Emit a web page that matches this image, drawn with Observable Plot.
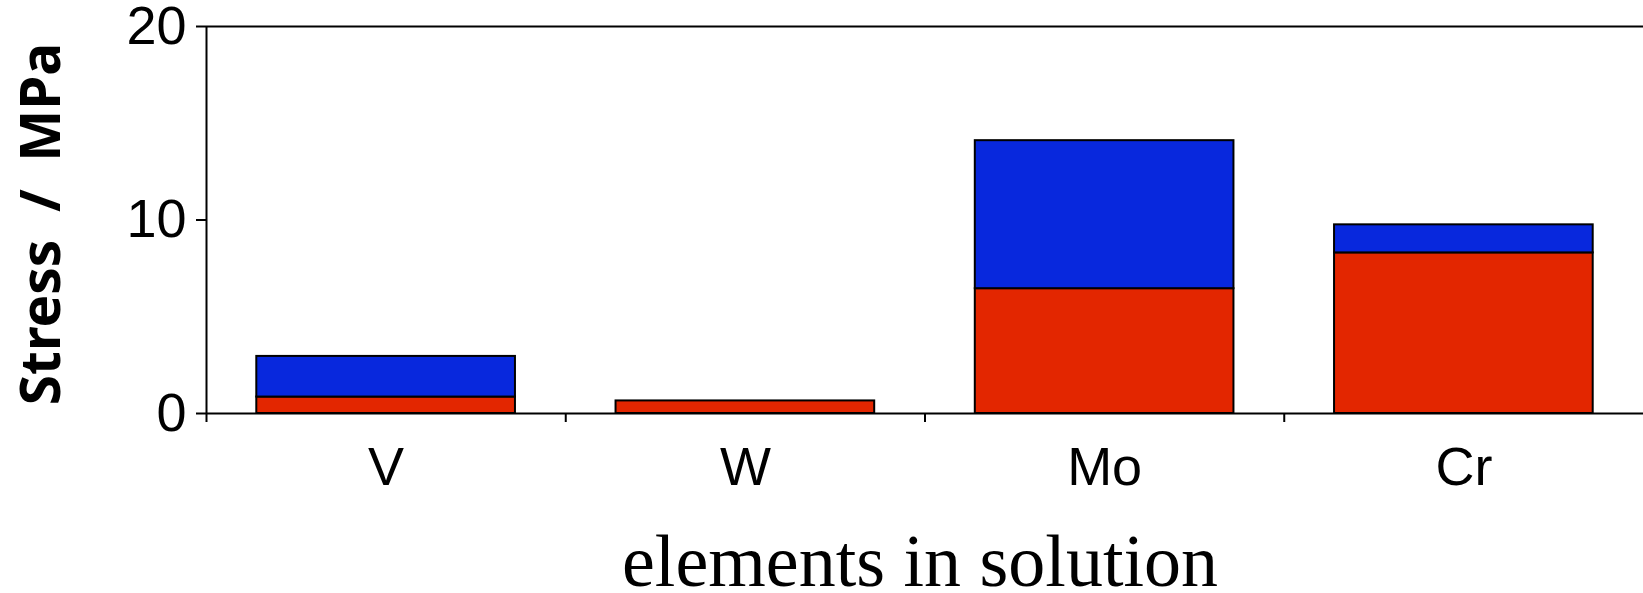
<!DOCTYPE html>
<html>
<head>
<meta charset="utf-8">
<script src="https://cdn.jsdelivr.net/npm/d3@7"></script>
<script src="https://cdn.jsdelivr.net/npm/@observablehq/plot@0.6"></script>
<style>
  html, body { margin: 0; padding: 0; background: #fff; }
  #chart svg { display: block; overflow: visible; }
</style>
</head>
<body>
<div id="chart"></div>
<script>
// Data
const categories = ["V", "W", "Mo", "Cr"];
const lowerPart = [0.85, 0.65, 6.45, 8.3];   // red segment
const upperPart = [2.1, 0, 7.65, 1.45];      // blue segment (stacked on red)
const yTicks = [0, 10, 20];
const yLabel = "Stress\u2002/\u2002MPa";
const xLabel = "elements in solution";

const table = categories.flatMap((c, i) => [
  {element: c, part: "lower", value: lowerPart[i]},
  {element: c, part: "upper", value: upperPart[i]}
]);

const W = 1643, H = 593;
const mL = 206, mR = 0, mT = 26, mB = 180;
const step = (W - mL - mR) / categories.length;

const chart = Plot.plot({
  width: W,
  height: H,
  marginLeft: mL,
  marginRight: mR,
  marginTop: mT,
  marginBottom: mB,
  style: {background: "#fff", color: "#000", fontFamily: "'Liberation Sans', sans-serif"},
  x: {domain: categories, paddingInner: 0.28, paddingOuter: 0.14, round: false, label: null},
  y: {domain: [0, 20], label: null},
  color: {domain: ["lower", "upper"], range: ["#e32600", "#0828dd"]},
  marks: [
    Plot.barY(table, {x: "element", y: "value", fill: "part", stroke: "#000", strokeWidth: 2}),
    Plot.ruleY([0, 20], {stroke: "#000", strokeWidth: 2}),
    Plot.ruleX([categories[0]], {stroke: "#000", strokeWidth: 2, dx: -step / 2}),
    Plot.axisY({ticks: yTicks, tickSize: 10, tickPadding: 10, fontSize: 54, strokeWidth: 2, label: null}),
    Plot.axisX({tickSize: 9, tickFormat: () => "", dx: -step / 2, strokeWidth: 2, label: null}),
    Plot.axisX({tickSize: 0, tickPadding: 33, fontSize: 54, label: null}),
    Plot.text([yLabel], {frameAnchor: "left", dx: -164, dy: 4, rotate: -90, fontSize: 55, fontWeight: "bold",
      fontFamily: "'Noto Sans', sans-serif", textAnchor: "middle", lineAnchor: "middle"}),
    Plot.text([xLabel], {frameAnchor: "bottom", dy: 172, dx: -5, fontSize: 74,
      fontFamily: "'Liberation Serif', serif", textAnchor: "middle", lineAnchor: "bottom"})
  ]
});
document.getElementById("chart").appendChild(chart);
</script>
</body>
</html>
